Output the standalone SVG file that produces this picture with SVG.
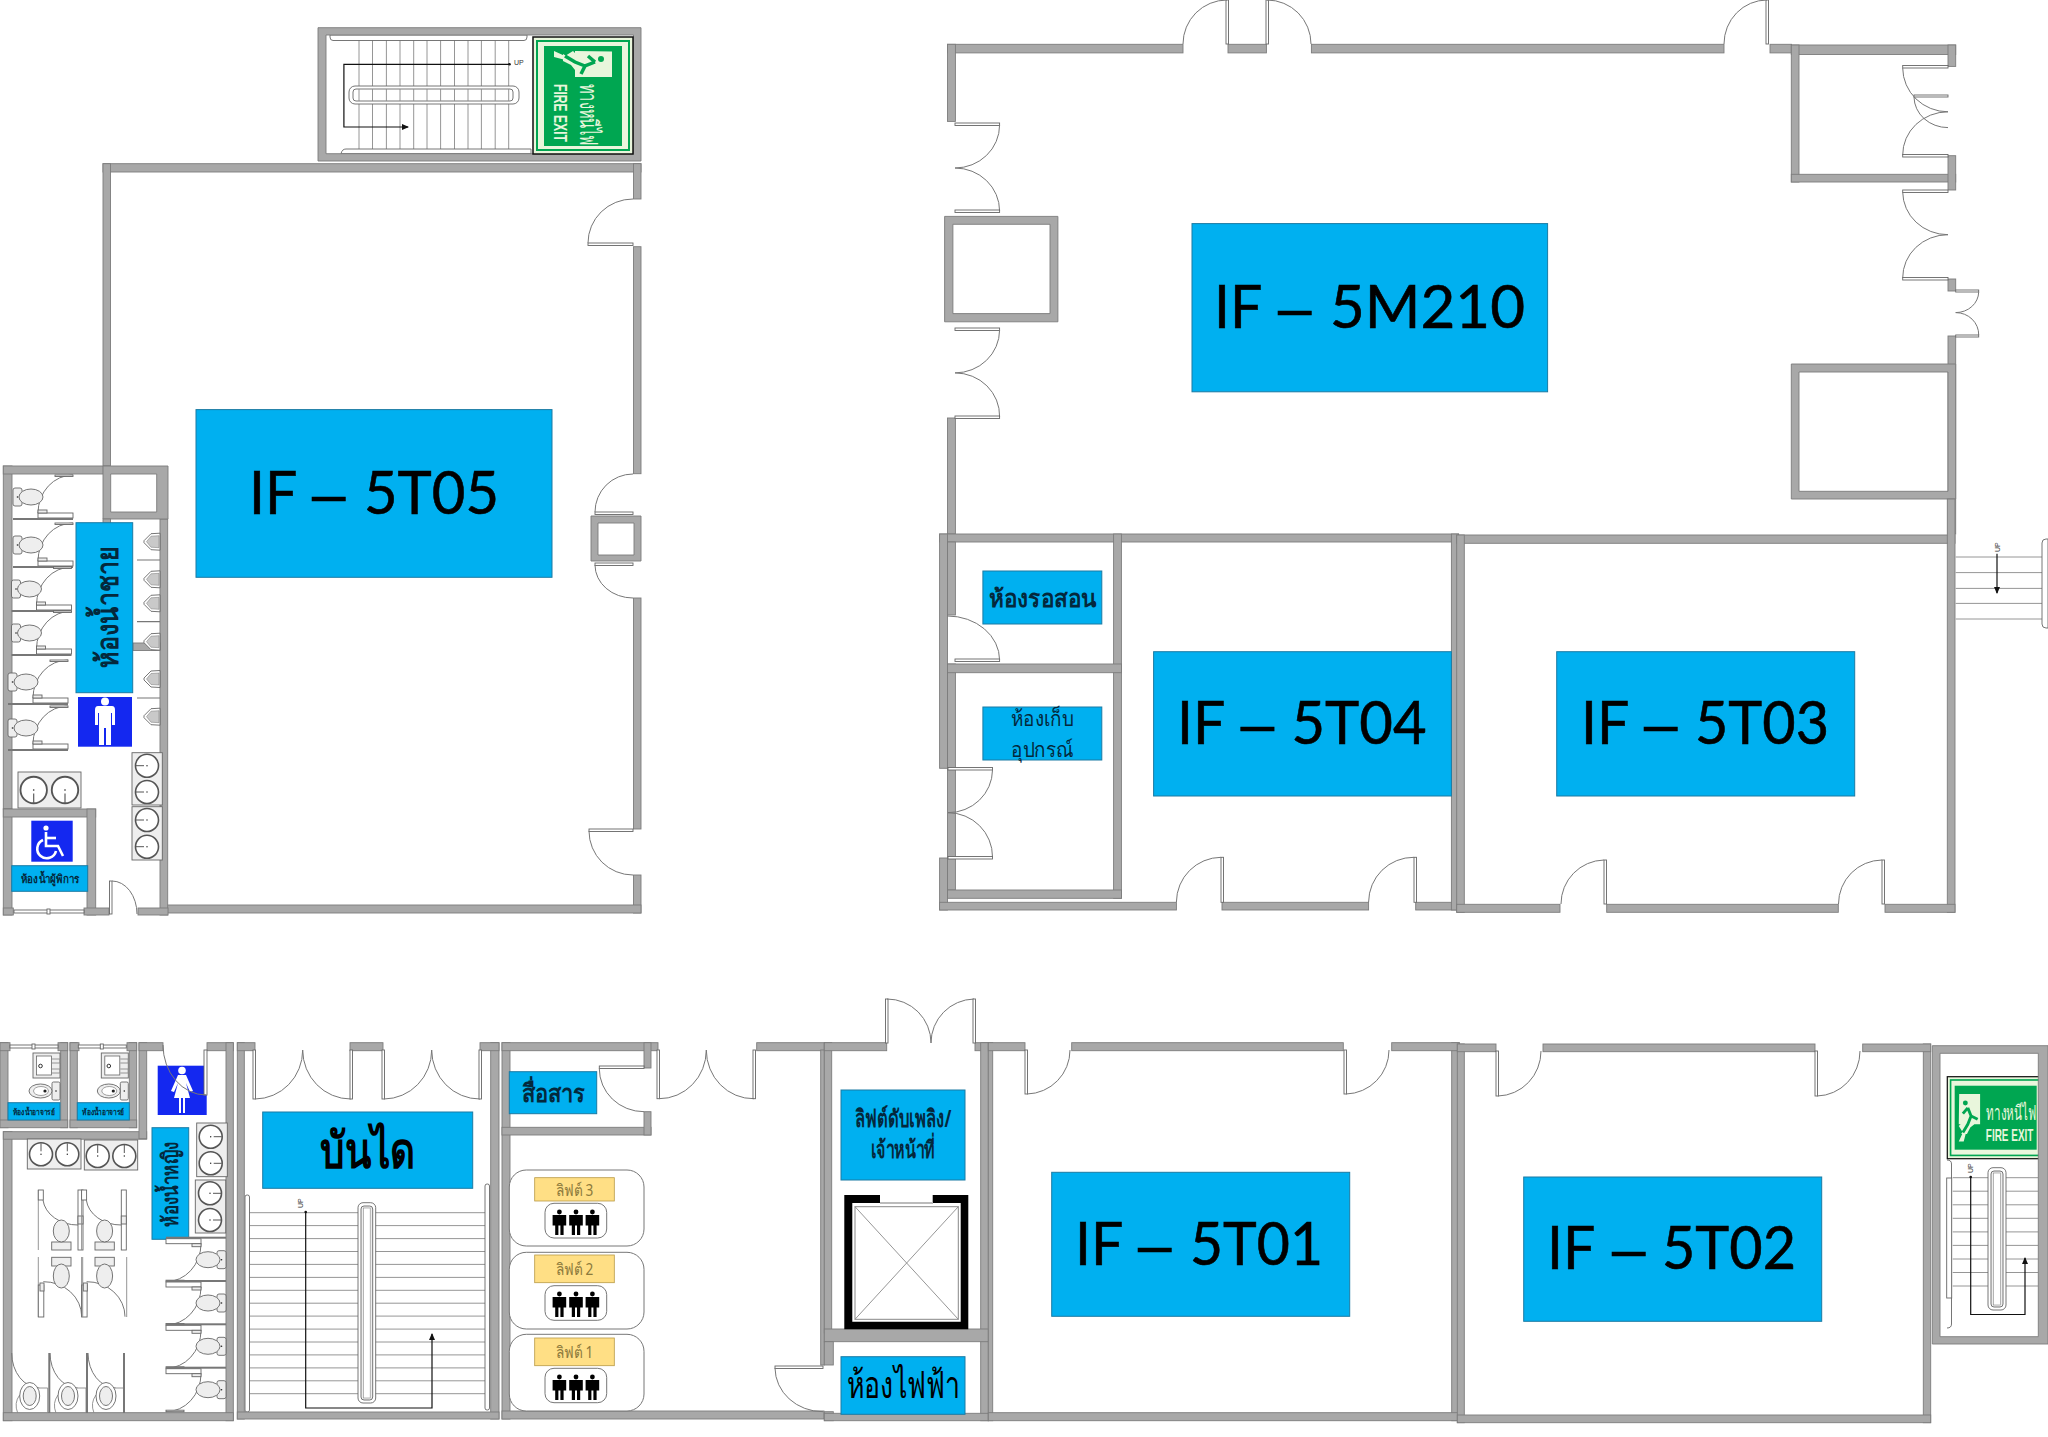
<svg xmlns="http://www.w3.org/2000/svg" xmlns:xlink="http://www.w3.org/1999/xlink" width="2048" height="1437" viewBox="0 0 2048 1437">
<style>
.w{fill:#a8a8a8;stroke:#7c7c7c;stroke-width:.9}
.f{fill:#a8a8a8;stroke:#7c7c7c;stroke-width:.9;fill-rule:evenodd}
.l{fill:#fff;stroke:#666;stroke-width:.9}
.a{fill:none;stroke:#777;stroke-width:1}
.s{fill:#00b0f0;stroke:#1b7ba3;stroke-width:1}
.t{fill:none;stroke:#8a8a8a;stroke-width:.9}
.fx{fill:#eee;stroke:#666;stroke-width:.9}
.arrow{fill:none;stroke:#111;stroke-width:1.2}
.big{font-family:Lato,"Liberation Sans",sans-serif;font-size:60px;fill:#000;stroke:#000;stroke-width:.6}
.d{font-family:"Liberation Sans",sans-serif}
.th{font-family:"Noto Sans","Liberation Sans",sans-serif;fill:#04283c;text-anchor:middle;font-weight:700}
.up{font-family:"Liberation Sans",sans-serif;font-size:7px;fill:#333}
</style>
<defs>
<marker id="ah" markerWidth="7" markerHeight="6" refX="6" refY="3" orient="auto" markerUnits="userSpaceOnUse"><path d="M0 0L7 3L0 6Z" fill="#111"/></marker>
<g id="stall">
<path class="a" d="M60 0A35 38 0 0 0 25 38"/>
<rect class="l" x="42" y="0" width="18" height="1.5"/>
<rect class="l" x="25" y="38" width="35" height="5"/>
<rect class="fx" x="25" y="35" width="9" height="3"/>
<rect x="0" y="43" width="60" height="2" fill="#777"/>
<rect class="fx" x="0" y="13" width="9" height="18" rx="2"/>
<ellipse class="fx" cx="18" cy="22" rx="12" ry="8"/>
<circle cx="4.500" cy="22" r=".8" fill="#222"/>
</g>
<g id="sink"><circle cx="0" cy="0" r="11.500" fill="#fff" stroke="#555" stroke-width="1.600"/><circle r=".7" fill="#222"/><path d="M-11 0H-3" stroke="#555" stroke-width="1"/></g>
<g id="urinal"><path d="M8 -8.500L-1 -8L-8 -1L-8 1L-1 8L8 8.500Z" fill="#fff" stroke="#666" stroke-width=".9"/><path d="M7 -6L-1 -5.500L-5.500 0L-1 5.500L7 6Z" fill="#c9c9c9" stroke="#777" stroke-width=".5"/></g>
<g id="person"><circle cx="0" cy="-10" r="2.400"/><path d="M-6.800 -7H6.800V3.500H4.200V13H1V3.500H-1V13H-4.200V3.500H-6.800Z"/></g>
<g id="three"><use xlink:href="#person" x="-16.600"/><use xlink:href="#person"/><use xlink:href="#person" x="16.400"/></g>
<g id="exit-sign">
<rect width="117" height="100" fill="#e9f6dc" stroke="#111" stroke-width="1.500"/>
<rect x="3" y="3" width="111" height="94" fill="#00a651"/>
<rect x="5" y="5" width="107" height="90" fill="#e9f6dc"/>
<rect x="9" y="11" width="100" height="78" fill="#00a651"/>
<path d="M14.500 21H40V58H33L28 62L24 70H17L24 58L14 58Z" fill="#e9f6dc"/>
<path d="M14 60L20 54L25 60L20 79H14L19 68Z" fill="#e9f6dc"/>
<circle cx="22" cy="32" r="3" fill="#00a651"/>
<path d="M25 38L29 48L37 52M29 48L25 58L19 68M25 38L19 45" fill="none" stroke="#00a651" stroke-width="3.500"/>
<text x="47" y="53" font-size="25" textLength="62" lengthAdjust="spacingAndGlyphs" style="font-family:'Noto Sans','Liberation Sans',sans-serif;fill:#e9f6dc">ทางหนีไฟ</text>
<text x="47" y="79" font-size="19" font-weight="700" textLength="58" lengthAdjust="spacingAndGlyphs" style="font-family:'Liberation Sans',sans-serif;fill:#e9f6dc">FIRE EXIT</text>
</g>
<g id="teacher-fixture">
<rect x="33" y="1053" width="27" height="25" class="fx"/>
<rect x="36.500" y="1056" width="15" height="19" fill="#fff" stroke="#666" stroke-width=".8"/>
<circle cx="40.500" cy="1066" r="1.800" fill="#fff" stroke="#333"/>
<path class="t" d="M52 1059H60V1063H52M52 1069H60V1073H52"/>
<rect class="fx" x="52" y="1082" width="8" height="18" rx="1.500"/>
<ellipse class="fx" cx="40.500" cy="1091" rx="11.500" ry="7"/>
<ellipse fill="#fff" stroke="#666" stroke-width=".6" cx="41" cy="1091" rx="7.500" ry="4.500"/>
<circle cx="45" cy="1091" r="1.600" fill="#222"/><circle cx="56" cy="1091" r=".8" fill="#222"/>
<rect class="l" x="10" y="1045" width="48" height="3"/>
<rect class="l" x="32" y="1044" width="3" height="5"/>
</g>
<g id="vstall-up">
<path d="M38.300 1190V1250" class="t"/>
<rect class="l" x="38.300" y="1190" width="5" height="10"/>
<path class="a" d="M43 1200A35 28 0 0 0 78 1225"/>
<rect class="l" x="78" y="1190" width="5" height="60"/>
<rect class="fx" x="78" y="1216" width="5" height="8"/>
<rect class="fx" x="51.700" y="1242" width="19.300" height="8"/>
<ellipse class="fx" cx="61.300" cy="1231" rx="8" ry="11"/>
</g>
<g id="vstall-down">
<path d="M38.300 1257V1317" class="t"/>
<rect class="l" x="38.300" y="1285" width="5.500" height="32"/>
<rect class="fx" x="40" y="1283" width="4" height="8"/>
<path class="a" d="M43.300 1281.700A38 35 0 0 1 81.700 1316.700"/>
<rect class="fx" x="51.700" y="1257.300" width="19.300" height="8.700"/>
<ellipse class="fx" cx="61.300" cy="1276" rx="8" ry="12"/>
</g>
<g id="floor-wc">
<path class="a" d="M0 0A28 35 0 0 0 28 35"/>
<path class="t" d="M28 35H36V60M6 60Q2 50 8 42"/>
<ellipse class="fx" cx="18" cy="43" rx="10" ry="13.500" style="fill:#fff"/>
<ellipse class="fx" cx="18" cy="43" rx="6.500" ry="9.500"/>
</g>
</defs>
<rect width="2048" height="1437" fill="#fff"/>

<g id="walls-top-left">
<g id="stair-north-graphics">
<path class="t" d="M359 35V153.700M372.500 35V153.700M386.400 35V153.700M400 35V153.700M413.700 35V153.700M427 35V153.700M440.600 35V153.700M454.500 35V153.700M468 35V153.700M481.400 35V153.700M495.200 35V153.700M508.700 35V153.700"/>
<path class="fx" d="M330 35H527V37Q527 40.500 524 40.500H333Q330 40.500 330 37Z" style="fill:#fff"/>
<path class="fx" d="M341 153.700Q342 149 346 149H531V153.700Z" style="fill:#fff"/>
<rect class="fx" x="349" y="86" width="170" height="18" rx="6" style="fill:#fff"/>
<rect class="fx" x="353" y="89" width="160" height="12" rx="3" style="fill:#fff"/>
<path class="t" d="M359 89V101M372.500 89V101M386.400 89V101M400 89V101M413.700 89V101M427 89V101M440.600 89V101M454.500 89V101M468 89V101M481.400 89V101M495.200 89V101M508.700 89V101"/>
<path class="arrow" d="M509.500 64.300H343.900V127H408" marker-end="url(#ah)"/>
<circle cx="509.500" cy="64.300" r="1.300" fill="#111"/>
<text class="up" x="514" y="65">UP</text>
</g>
<path class="f" d="M318 27.700H641V161H318ZM326 35V153.700H633.500V35Z"/>
<use xlink:href="#exit-sign" transform="translate(633,37) rotate(90)"/>
<rect class="w" x="103" y="163.700" width="538" height="8.300"/>
<rect class="w" x="103" y="163.700" width="7.500" height="302"/>
<rect class="w" x="633.500" y="163.700" width="7.500" height="35.300"/>
<rect class="w" x="633.500" y="246.700" width="7.500" height="227"/>
<rect class="w" x="633.500" y="598" width="7.500" height="231"/>
<rect class="w" x="633.500" y="875" width="7.500" height="38"/>
<rect class="w" x="167" y="905" width="474" height="8"/>
<path class="f" d="M591 516H641V561H591ZM598 523V555H634V523Z"/>
<rect class="l" x="588" y="243" width="45" height="2.500"/><path class="a" d="M588 243A45 44 0 0 1 633 199"/>
<rect class="l" x="595" y="512" width="38" height="2.500"/><path class="a" d="M595 512A38 38 0 0 1 633 474"/>
<rect class="l" x="595" y="563" width="38" height="2.500"/><path class="a" d="M595 565A38 33 0 0 0 633 598"/>
<rect class="l" x="589" y="829" width="44" height="2.500"/><path class="a" d="M589 831A44 44 0 0 0 633 875"/>
</g>

<g id="toilet-male">
<rect class="w" x="3.300" y="466" width="8.700" height="343"/>
<rect class="w" x="3.300" y="466" width="100" height="8"/>
<rect class="w" x="160" y="519" width="7.700" height="396"/>
<path class="f" d="M103 466H168V519H103ZM110.700 474V512H156.700V474Z"/>
<rect class="w" x="103" y="519" width="7.500" height="4"/>
<rect class="w" x="133" y="643" width="27" height="7.500"/>
<use xlink:href="#stall" x="13" y="475"/>
<use xlink:href="#stall" x="13" y="523"/>
<use xlink:href="#stall" x="11.500" y="567"/>
<use xlink:href="#stall" x="11.500" y="611"/>
<use xlink:href="#stall" x="8" y="660"/>
<use xlink:href="#stall" x="8" y="706"/>
<path d="M137 560H160M137 621.700H160M137 698H160" stroke="#777" stroke-width="1.200"/>
<use xlink:href="#urinal" x="152" y="541.700"/><use xlink:href="#urinal" x="152" y="579.300"/><use xlink:href="#urinal" x="152" y="603.300"/><use xlink:href="#urinal" x="152" y="641.700"/><use xlink:href="#urinal" x="152" y="679"/><use xlink:href="#urinal" x="152" y="716.700"/>
<rect class="fx" x="132" y="752.700" width="30.300" height="52.300"/><rect class="fx" x="132" y="806.700" width="30.300" height="53.300"/>
<use xlink:href="#sink" x="147" y="765.700"/><use xlink:href="#sink" x="147" y="792"/><use xlink:href="#sink" x="147" y="820"/><use xlink:href="#sink" x="147" y="846.700"/>
<rect class="fx" x="18" y="772" width="63" height="36"/>
<use xlink:href="#sink" transform="translate(33.700,790) rotate(-90) scale(1.150)"/><use xlink:href="#sink" transform="translate(65,790) rotate(-90) scale(1.150)"/>
<rect class="s" x="76" y="522.700" width="56.700" height="170"/>
<text class="th" transform="translate(118,607) rotate(-90)" font-size="30" textLength="122" lengthAdjust="spacingAndGlyphs">ห้องน้ำชาย</text>
<rect x="78" y="697" width="54" height="49.700" fill="#1428f0"/>
<g fill="#fff"><circle cx="105" cy="701.500" r="4"/><path d="M98 706H112Q115 706 115 710V725H112V713H111V745H106V728H104V745H99V713H98V725H95V710Q95 706 98 706Z"/></g>
<rect class="w" x="3.300" y="809" width="8.700" height="106"/>
<rect class="w" x="3.300" y="809" width="92.400" height="8"/>
<rect class="w" x="87" y="809" width="8.700" height="106"/>
<rect class="w" x="3.300" y="908" width="10" height="7"/>
<rect class="w" x="84" y="908" width="25" height="7"/>
<rect class="w" x="138" y="908" width="30" height="7"/>
<rect class="l" x="14" y="910" width="70" height="3"/><rect class="l" x="47" y="909" width="3" height="5"/>
<rect class="l" x="109.500" y="881" width="2.500" height="33"/><path class="a" d="M112 881A25 33 0 0 1 137 914"/>
<rect x="31.300" y="820.700" width="41.400" height="41" fill="#1428f0"/>
<g fill="none" stroke="#fff" stroke-width="2.600"><circle cx="46" cy="828" r="2.600" fill="#fff" stroke="none"/><path d="M46 832V846H58L63 856"/><path d="M46 838H56"/><path d="M43 840A9.500 9.500 0 1 0 56 851"/></g>
<rect class="s" x="11.700" y="865.700" width="76" height="25.600"/>
<text class="th" x="50" y="882.700" font-size="11.500" textLength="58.700" lengthAdjust="spacingAndGlyphs">ห้องน้ำผู้พิการ</text>
</g>

<g id="toilet-female">
<rect class="w" x="0" y="1042.700" width="8" height="85"/>
<rect class="w" x="60.700" y="1042.700" width="7" height="85"/>
<rect class="w" x="0" y="1120" width="67.700" height="7.700"/>
<rect class="w" x="0" y="1042.700" width="10" height="8"/><rect class="w" x="58" y="1042.700" width="9.700" height="8"/>
<rect class="w" x="70" y="1042.700" width="7.300" height="85"/>
<rect class="w" x="129.300" y="1042.700" width="7.400" height="85"/>
<rect class="w" x="70" y="1120" width="66.700" height="7.700"/>
<rect class="w" x="70" y="1042.700" width="9" height="8"/><rect class="w" x="127" y="1042.700" width="9.700" height="8"/>
<use xlink:href="#teacher-fixture"/><use xlink:href="#teacher-fixture" x="68.300"/>
<rect class="s" x="8" y="1102.700" width="52" height="17.300"/><rect class="s" x="77.300" y="1102.700" width="52" height="17.300"/>
<text class="th" x="34" y="1115" font-size="8" textLength="41.700" lengthAdjust="spacingAndGlyphs">ห้องน้ำอาจารย์</text><text class="th" x="103.300" y="1115" font-size="8" textLength="41.700" lengthAdjust="spacingAndGlyphs">ห้องน้ำอาจารย์</text>
<rect class="w" x="3.300" y="1131.700" width="8.700" height="289"/>
<rect class="w" x="3.300" y="1131.700" width="143.400" height="7.500"/>
<rect class="w" x="139" y="1042.700" width="7.700" height="96"/>
<rect class="w" x="139" y="1042.700" width="24" height="8"/>
<rect class="w" x="207" y="1042.700" width="26.300" height="8"/>
<rect class="w" x="226" y="1042.700" width="7.300" height="378"/>
<rect class="w" x="3.300" y="1412.700" width="230" height="8"/>
<rect x="157.700" y="1065.700" width="49" height="49.300" fill="#1428f0"/>
<g fill="#fff"><circle cx="182" cy="1070.500" r="3.800"/><path d="M178 1075H186L193 1091L190 1092L186 1083L190 1098H185V1113H183V1098H181V1113H179V1098H174L178 1083L174 1092L171 1091Z"/></g>
<rect class="l" x="204" y="1050" width="3" height="45"/><path class="a" d="M163 1045A43 50 0 0 0 206 1095"/>
<rect class="fx" x="27.300" y="1139" width="53.700" height="30"/><rect class="fx" x="84.300" y="1140" width="53.400" height="30"/>
<use xlink:href="#sink" transform="translate(41,1154.300) rotate(90)"/><use xlink:href="#sink" transform="translate(67.300,1154.300) rotate(90)"/><use xlink:href="#sink" transform="translate(97.700,1156) rotate(90)"/><use xlink:href="#sink" transform="translate(124.300,1156) rotate(90)"/>
<rect class="fx" x="196.700" y="1123" width="30.600" height="53.700"/><rect class="fx" x="195.300" y="1180" width="30.400" height="53"/>
<use xlink:href="#sink" transform="translate(210.700,1136.700) rotate(180)"/><use xlink:href="#sink" transform="translate(210.700,1163.300) rotate(180)"/><use xlink:href="#sink" transform="translate(210,1193.300) rotate(180)"/><use xlink:href="#sink" transform="translate(210,1220) rotate(180)"/>
<rect class="s" x="152" y="1127.700" width="36.700" height="111.600"/>
<text class="th" transform="translate(178,1184) rotate(-90)" font-size="22" textLength="85" lengthAdjust="spacingAndGlyphs">ห้องน้ำหญิง</text>
<use xlink:href="#stall" transform="translate(226,1281.700) rotate(180)"/>
<use xlink:href="#stall" transform="translate(226,1325) rotate(180)"/>
<use xlink:href="#stall" transform="translate(226,1368.300) rotate(180)"/>
<use xlink:href="#stall" transform="translate(226,1411.700) rotate(180)"/>
<use xlink:href="#vstall-up"/><use xlink:href="#vstall-up" x="43.300"/>
<use xlink:href="#vstall-down"/><use xlink:href="#vstall-down" x="43.300"/>
<path d="M82.700 1257V1317M126.700 1257V1317" class="t"/>
<use xlink:href="#floor-wc" x="11.700" y="1353"/><use xlink:href="#floor-wc" x="50" y="1353"/><use xlink:href="#floor-wc" x="88" y="1353"/>
<rect x="48.300" y="1353" width="2" height="60" fill="#777"/><rect x="86" y="1353" width="2" height="60" fill="#777"/><rect x="123" y="1353" width="2" height="60" fill="#777"/>
</g>

<g id="stair-main">
<path class="t" d="M248 1212.700H485M248 1225.600H485M248 1238.600H485M248 1251.500H485M248 1264.400H485M248 1277.400H485M248 1290.300H485M248 1303.200H485M248 1316.100H485M248 1329.100H485M248 1342H485M248 1354.900H485M248 1367.900H485M248 1380.800H485M248 1393.700H485"/>
<rect class="fx" x="358" y="1202.700" width="17.700" height="200.300" rx="5" style="fill:#fff"/>
<rect class="fx" x="361" y="1206" width="11.700" height="194" rx="3"/>
<rect x="363.500" y="1208" width="6.700" height="190" fill="#fff" stroke="#888" stroke-width=".6"/>
<rect class="fx" x="245" y="1195" width="4.500" height="217" rx="2" style="fill:#fff"/>
<rect class="fx" x="485" y="1184" width="4.500" height="226" rx="2" style="fill:#fff"/>
<path class="arrow" d="M305.700 1212V1408H432V1334" marker-end="url(#ah)"/>
<circle cx="305.700" cy="1212" r="1.300" fill="#111"/>
<text class="up" transform="translate(303,1208) rotate(-90)">UP</text>
<rect class="w" x="237.300" y="1042.700" width="7" height="376.300"/>
<rect class="w" x="490.700" y="1042.700" width="8.300" height="376.300"/>
<rect class="w" x="237.300" y="1412" width="261.700" height="7"/>
<rect class="w" x="237.300" y="1042.700" width="17.700" height="8"/>
<rect class="w" x="350" y="1042.700" width="33" height="8"/>
<rect class="w" x="480" y="1042.700" width="19" height="8"/>
<rect class="l" x="253" y="1050" width="2.500" height="49"/><path class="a" d="M255 1099A48 49 0 0 0 302.700 1050A48 49 0 0 0 350.700 1099"/><rect class="l" x="350" y="1050" width="2.500" height="49"/>
<rect class="l" x="382" y="1050" width="2.500" height="49"/><path class="a" d="M384 1099A48 49 0 0 0 431.700 1050A48 49 0 0 0 480 1099"/><rect class="l" x="479" y="1050" width="2.500" height="49"/>
<rect class="s" x="262.700" y="1112" width="210" height="76.300"/>
<text class="th" x="367.500" y="1167.700" font-size="50" textLength="95" lengthAdjust="spacingAndGlyphs" style="fill:#000">บันได</text>
</g>

<g id="lift-lobby">
<rect class="w" x="502" y="1042.700" width="8" height="376.300"/>
<rect class="w" x="502" y="1042.700" width="156" height="8"/>
<rect class="w" x="756.700" y="1042.700" width="67.600" height="8"/>
<rect class="w" x="502" y="1127.300" width="149" height="7.700"/>
<rect class="w" x="644" y="1042.700" width="7" height="25.300"/>
<rect class="w" x="644" y="1111.700" width="7" height="23.300"/>
<rect class="w" x="820.700" y="1050" width="3.600" height="315"/>
<rect class="w" x="502" y="1411" width="322" height="8"/>
<rect class="l" x="599.300" y="1066" width="44.700" height="2.500"/><path class="a" d="M599.300 1068.500A44.700 43 0 0 0 644 1111.700"/>
<rect class="s" x="509.300" y="1071.700" width="87.400" height="42"/>
<text class="th" x="553" y="1101.700" font-size="25" textLength="63" lengthAdjust="spacingAndGlyphs">สื่อสาร</text>
<rect class="l" x="657" y="1050" width="2.500" height="48.700"/><path class="a" d="M659 1098.700A47 48.700 0 0 0 706.300 1050A47 48.700 0 0 0 754 1098.700"/><rect class="l" x="753" y="1050" width="2.500" height="48.700"/>
<g fill="#fff" stroke="#777" stroke-width="1">
<rect x="509.300" y="1170" width="134.700" height="76" rx="17"/><rect x="509.300" y="1252.300" width="134.700" height="76.700" rx="17"/><rect x="509.300" y="1334.300" width="134.700" height="76.700" rx="17"/>
<rect x="545" y="1203.300" width="61.700" height="34.700" rx="9"/><rect x="545" y="1285.700" width="61.700" height="34.600" rx="9"/><rect x="545" y="1368.300" width="61.700" height="34.400" rx="9"/>
</g>
<g fill="#ffdf85" stroke="#b89a45" stroke-width=".8"><rect x="534.700" y="1177.700" width="79.600" height="23.300"/><rect x="534.700" y="1255" width="79.600" height="27.700"/><rect x="534.700" y="1338" width="79.600" height="27.700"/></g>
<g style="font-family:'Noto Sans','Liberation Sans',sans-serif;text-anchor:middle;font-size:16px;fill:#8c7a3c"><text x="574.500" y="1196" textLength="37.700" lengthAdjust="spacingAndGlyphs">ลิฟต์ 3</text><text x="574.500" y="1275" textLength="37.700" lengthAdjust="spacingAndGlyphs">ลิฟต์ 2</text><text x="574.500" y="1358" textLength="37.700" lengthAdjust="spacingAndGlyphs">ลิฟต์ 1</text></g>
<use xlink:href="#three" x="576" y="1222"/><use xlink:href="#three" x="576" y="1304"/><use xlink:href="#three" x="576" y="1387"/>
</g>

<g id="fire-lift">
<rect class="w" x="824.300" y="1042.700" width="7.400" height="290"/>
<rect class="w" x="824.300" y="1042.700" width="62.400" height="8"/>
<rect class="w" x="975" y="1042.700" width="13.300" height="8"/>
<rect class="w" x="980.700" y="1042.700" width="7.600" height="378"/>
<rect class="w" x="824.300" y="1329" width="164" height="12.700"/>
<rect class="w" x="824.300" y="1341.700" width="9" height="23.300"/>
<rect class="w" x="824.300" y="1411.700" width="9" height="9"/>
<rect class="w" x="824.300" y="1413.300" width="164" height="7.400"/>
<rect class="l" x="885.500" y="999" width="2.500" height="44"/><path class="a" d="M887 999A44 44 0 0 1 931 1043A44 44 0 0 1 974 999"/><rect class="l" x="973" y="999" width="2.500" height="44"/>
<rect class="l" x="775" y="1366" width="48" height="2.500"/><path class="a" d="M775 1368A48 44 0 0 0 823 1411.700"/>
<rect class="s" x="841" y="1090" width="124" height="90"/>
<text class="th" x="903" y="1126.700" font-size="24" textLength="96.700" lengthAdjust="spacingAndGlyphs">ลิฟต์ดับเพลิง/</text>
<text class="th" x="903" y="1158" font-size="24" textLength="64" lengthAdjust="spacingAndGlyphs">เจ้าหน้าที่</text>
<path d="M844.300 1329.300V1195H880V1203H852.300V1321.700H960.700V1203H932.700V1195H968.300V1329.300Z" fill="#000"/>
<rect x="880" y="1202" width="53" height="2" fill="#bbb"/>
<rect x="855" y="1206.700" width="103.300" height="112.600" fill="#fff" stroke="#888" stroke-width="1"/>
<path class="t" d="M855 1206.700L958.300 1319.300M958.300 1206.700L855 1319.300"/>
<rect class="s" x="841" y="1356.700" width="124" height="57.600"/>
<text class="th" x="903.300" y="1398" font-size="38" textLength="113" lengthAdjust="spacingAndGlyphs" style="fill:#000;font-weight:400">ห้องไฟฟ้า</text>
</g>

<g id="room-5t01">
<rect class="w" x="988.300" y="1042.700" width="4.400" height="378"/>
<rect class="w" x="1451.700" y="1042.700" width="7.600" height="378"/>
<rect class="w" x="988.300" y="1042.700" width="36.700" height="8"/>
<rect class="w" x="1071.700" y="1042.700" width="271.600" height="8"/>
<rect class="w" x="1391.700" y="1042.700" width="67.600" height="8"/>
<rect class="w" x="988.300" y="1412.700" width="471" height="8"/>
<rect class="l" x="1025" y="1050" width="2.500" height="44"/><path class="a" d="M1027 1094A44 44 0 0 0 1070 1050"/>
<rect class="l" x="1344" y="1050" width="2.500" height="44"/><path class="a" d="M1346 1094A44 44 0 0 0 1389 1050"/>
<rect class="s" x="1051.700" y="1172.300" width="298" height="144"/>
<text class="big" y="1265"><tspan x="1075" textLength="47" lengthAdjust="spacingAndGlyphs">IF</tspan> <tspan class="d" x="1138">–</tspan> <tspan x="1190" textLength="133" lengthAdjust="spacingAndGlyphs">5T01</tspan></text>
</g>

<g id="room-5t02">
<rect class="w" x="1457.300" y="1044" width="7" height="378.700"/>
<rect class="w" x="1923.300" y="1044" width="7.400" height="378.700"/>
<rect class="w" x="1457.300" y="1044" width="38.700" height="7.700"/>
<rect class="w" x="1543" y="1044" width="272" height="7.700"/>
<rect class="w" x="1862.700" y="1044" width="68" height="7.700"/>
<rect class="w" x="1457.300" y="1415" width="473.400" height="7.700"/>
<rect class="l" x="1496" y="1051" width="2.500" height="45"/><path class="a" d="M1498 1096A44 45 0 0 0 1541 1051"/>
<rect class="l" x="1815" y="1051" width="2.500" height="45"/><path class="a" d="M1817 1096A44 45 0 0 0 1860 1051"/>
<rect class="s" x="1523.700" y="1177" width="298" height="144.300"/>
<text class="big" y="1269"><tspan x="1547" textLength="47" lengthAdjust="spacingAndGlyphs">IF</tspan> <tspan class="d" x="1612">–</tspan> <tspan x="1662" textLength="134" lengthAdjust="spacingAndGlyphs">5T02</tspan></text>
</g>

<g id="stair-east">
<path class="t" d="M1952.700 1177.700H2038M1952.700 1191.200H2038M1952.700 1204.800H2038M1952.700 1218.300H2038M1952.700 1231.900H2038M1952.700 1245.400H2038M1952.700 1259H2038M1952.700 1272.500H2038M1952.700 1286H2038"/>
<rect class="fx" x="1988" y="1167.700" width="18" height="142.300" rx="5" style="fill:#fff"/>
<rect class="fx" x="1991" y="1171" width="12" height="136" rx="3"/>
<rect x="1993.500" y="1173" width="7" height="132" fill="#fff" stroke="#888" stroke-width=".6"/>
<path class="fx" d="M1947 1160Q1951.500 1160 1951.500 1164V1324Q1951.500 1328 1947 1328" style="fill:#fff"/>
<rect class="fx" x="1946.700" y="1178" width="5" height="120" style="fill:#fff"/>
<path class="arrow" d="M1970.700 1177V1314.500H2025V1258" marker-end="url(#ah)"/>
<circle cx="1970.700" cy="1177" r="1.300" fill="#111"/>
<text class="up" transform="translate(1973,1173) rotate(-90)">UP</text>
<use xlink:href="#exit-sign" transform="translate(1947.300,1076.700) scale(.82)"/>
<path class="f" d="M1932.300 1045.700H2048V1344H1932.300ZM1940 1053.300V1336.700H2038.300V1053.300Z"/>
</g>

<g id="room-5t05-label">
<rect class="s" x="196" y="409.600" width="356" height="167.700"/>
<text class="big" y="513.500"><tspan x="249" textLength="47" lengthAdjust="spacingAndGlyphs">IF</tspan> <tspan class="d" x="312">–</tspan> <tspan x="364" textLength="135" lengthAdjust="spacingAndGlyphs">5T05</tspan></text>
</g>

<g id="room-5m210">
<rect class="w" x="947.500" y="44.300" width="235.500" height="8.600"/>
<rect class="w" x="1228" y="44.300" width="38.400" height="8.600"/>
<rect class="w" x="1311.400" y="44.300" width="412.600" height="8.600"/>
<rect class="w" x="1770" y="44.300" width="21.500" height="8.600"/>
<rect class="w" x="947.500" y="44.300" width="7.900" height="77.100"/>
<rect class="w" x="947.500" y="418" width="7.900" height="116"/>
<path class="f" d="M944.600 216.400H1057.900V321.800H944.600ZM952.900 224.300V313.600H1050V224.300Z"/>
<rect class="l" x="1226" y="0" width="2.500" height="44"/><path class="a" d="M1183 44A44 44 0 0 1 1227 0"/>
<rect class="l" x="1266" y="0" width="2.500" height="44"/><path class="a" d="M1267 0A44 44 0 0 1 1311 44"/>
<rect class="l" x="1766" y="0" width="2.500" height="44"/><path class="a" d="M1724 44A43 44 0 0 1 1767 0"/>
<rect class="l" x="955" y="123" width="44.600" height="2.500"/><path class="a" d="M999.600 125A44.600 43 0 0 1 955 168A44.600 43 0 0 1 999.600 211"/><rect class="l" x="955" y="210" width="44.600" height="2.500"/>
<rect class="l" x="955" y="328" width="44.600" height="2.500"/><path class="a" d="M999.600 330A44.600 43 0 0 1 955 372.900A44.600 43 0 0 1 999.600 416.800"/><rect class="l" x="955" y="416" width="44.600" height="2.500"/>
<rect class="w" x="1791.300" y="45" width="164.400" height="9.500"/>
<rect class="w" x="1791.300" y="45" width="7.700" height="137"/>
<rect class="w" x="1791.300" y="174.300" width="164.400" height="7.700"/>
<rect class="w" x="1948" y="45" width="7.700" height="21.400"/>
<rect class="w" x="1948" y="155.700" width="7.700" height="34.300"/>
<rect class="w" x="1948" y="279" width="7.700" height="12"/>
<rect class="w" x="1948" y="336" width="7.700" height="198"/>
<path class="f" d="M1791.300 364H1955.700V499H1791.300ZM1799 372V491.300H1948V372Z"/>
<rect class="l" x="1902.700" y="65.500" width="45.300" height="2.500"/><path class="a" d="M1902.700 68A45.300 44 0 0 0 1948 111.800A45.300 43 0 0 0 1902.700 155"/><rect class="l" x="1902.700" y="154.500" width="45.300" height="2.500"/>
<rect class="l" x="1914" y="95" width="34" height="2"/><path class="a" d="M1914 97A34 31 0 0 0 1948 127.600"/>
<rect class="l" x="1902.700" y="190" width="45.300" height="2.500"/><path class="a" d="M1902.700 192A45.300 43 0 0 0 1948 234.700A45.300 43 0 0 0 1902.700 278"/><rect class="l" x="1902.700" y="277.500" width="45.300" height="2.500"/>
<rect class="l" x="1955.700" y="290" width="23" height="2"/><path class="a" d="M1978.700 292A23 21 0 0 1 1955.700 312.600A23 22 0 0 1 1978.700 335"/><rect class="l" x="1955.700" y="335" width="23" height="2"/>
<rect class="s" x="1192" y="223.600" width="355.600" height="168.200"/>
<text class="big" y="328"><tspan x="1214" textLength="47" lengthAdjust="spacingAndGlyphs">IF</tspan> <tspan class="d" x="1278">–</tspan> <tspan x="1330" textLength="195" lengthAdjust="spacingAndGlyphs">5M210</tspan></text>
</g>

<g id="stair-ext">
<path class="t" d="M1955.700 557H2042M1955.700 572.600H2042M1955.700 588.400H2042M1955.700 603.400H2042M1955.700 619H2042"/>
<path class="fx" d="M2048 539H2046Q2042 539 2042 543V624Q2042 628 2046 628H2048Z" style="fill:#fff"/>
<path class="arrow" d="M1997 553.700V593" marker-end="url(#ah)"/>
<text class="up" transform="translate(1999.500,552) rotate(-90)">UP</text>
</g>

<g id="rooms-lower-right">
<rect class="w" x="939.600" y="534" width="519" height="8"/>
<rect class="w" x="939.600" y="534" width="7.900" height="234.300"/>
<rect class="w" x="939.600" y="858" width="7.900" height="52"/>
<rect class="w" x="947.500" y="542" width="7.900" height="73"/>
<rect class="w" x="947.500" y="664" width="7.900" height="226"/>
<rect class="w" x="1113.600" y="534" width="7.800" height="364.300"/>
<rect class="w" x="947.500" y="664" width="174" height="8.700"/>
<rect class="w" x="947.500" y="890" width="174" height="8.300"/>
<rect class="w" x="939.600" y="902.300" width="236.800" height="7.700"/>
<rect class="w" x="1222" y="902.300" width="146.600" height="7.700"/>
<rect class="w" x="1415.700" y="902.300" width="42.900" height="7.700"/>
<rect class="w" x="1451.400" y="534" width="7.200" height="376"/>
<rect class="w" x="1456.700" y="535" width="498.300" height="8.300"/>
<rect class="w" x="1456.700" y="535" width="7.600" height="377.300"/>
<rect class="w" x="1947.300" y="499" width="7.700" height="413.300"/>
<rect class="w" x="1456.700" y="904.300" width="103.300" height="8"/>
<rect class="w" x="1606.700" y="904.300" width="231.600" height="8"/>
<rect class="w" x="1885" y="904.300" width="70" height="8"/>
<rect class="l" x="955" y="659" width="44.600" height="2.500"/><path class="a" d="M947.500 616A52 44 0 0 1 999.600 660"/>
<rect class="l" x="948" y="767.500" width="44.500" height="2.500"/><path class="a" d="M992.500 770A44.500 43 0 0 1 948 812.700A44.500 44 0 0 1 992.500 857"/><rect class="l" x="948" y="856.500" width="44.500" height="2.500"/>
<rect class="l" x="1221" y="857.300" width="2.500" height="45"/><path class="a" d="M1176.400 902A45 45 0 0 1 1221 857.300"/>
<rect class="l" x="1414" y="857.300" width="2.500" height="45"/><path class="a" d="M1368.600 902A45 45 0 0 1 1414 857.300"/>
<rect class="l" x="1604" y="860" width="2.500" height="44"/><path class="a" d="M1561 904A44 44 0 0 1 1604 860"/>
<rect class="l" x="1882" y="860" width="2.500" height="44"/><path class="a" d="M1838.500 904A44 44 0 0 1 1882 860"/>
<rect class="s" x="982.900" y="571" width="118.900" height="53"/>
<text class="th" x="1042.500" y="607" font-size="24" textLength="107" lengthAdjust="spacingAndGlyphs">ห้องรอสอน</text>
<rect class="s" x="982.900" y="707" width="118.900" height="53"/>
<text class="th" x="1042" y="726" font-size="21" textLength="63" lengthAdjust="spacingAndGlyphs" style="font-weight:400">ห้องเก็บ</text>
<text class="th" x="1042" y="757" font-size="21" textLength="62" lengthAdjust="spacingAndGlyphs" style="font-weight:400">อุปกรณ์</text>
<rect class="s" x="1153.600" y="651.700" width="297.800" height="144.300"/>
<text class="big" y="744"><tspan x="1177" textLength="47" lengthAdjust="spacingAndGlyphs">IF</tspan> <tspan class="d" x="1240.700">–</tspan> <tspan x="1291.500" textLength="135" lengthAdjust="spacingAndGlyphs">5T04</tspan></text>
<rect class="s" x="1556.700" y="651.700" width="298" height="144.300"/>
<text class="big" y="744"><tspan x="1581" textLength="47" lengthAdjust="spacingAndGlyphs">IF</tspan> <tspan class="d" x="1644">–</tspan> <tspan x="1695" textLength="134" lengthAdjust="spacingAndGlyphs">5T03</tspan></text>
</g>
</svg>
